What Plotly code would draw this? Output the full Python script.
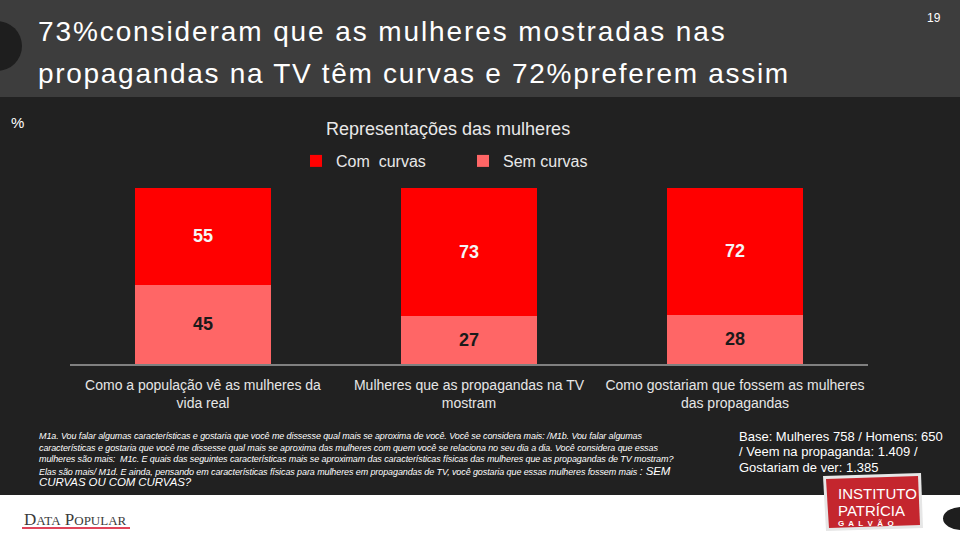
import plotly.graph_objects as go

categories = [
    "Como a população vê as mulheres da<br>vida real",
    "Mulheres que as propagandas na TV<br>mostram",
    "Como gostariam que fossem as mulheres<br>das propagandas",
]
com_curvas = [55, 73, 72]
sem_curvas = [45, 27, 28]

W, H = 960, 534
PL, PR, PT, PB = 70, 868, 188, 364


def px(x):
    return (x - PL) / (PR - PL)


def py(y):
    return (PB - y) / (PB - PT)


fig = go.Figure()
fig.add_trace(go.Bar(
    name="Sem curvas", x=categories, y=sem_curvas,
    marker=dict(color="#ff6666", line=dict(width=0)),
    text=[str(v) for v in sem_curvas], textposition="inside",
    insidetextanchor="middle",
    textfont=dict(family="Liberation Sans", size=18, color="#1a1a1a", weight="bold"),
    legendrank=2, width=0.51,
))
fig.add_trace(go.Bar(
    name="Com  curvas", x=categories, y=com_curvas,
    marker=dict(color="#ff0000", line=dict(width=0)),
    text=[str(v) for v in com_curvas], textposition="inside",
    insidetextanchor="middle",
    textfont=dict(family="Liberation Sans", size=18, color="#f5f5f5", weight="bold"),
    legendrank=1, width=0.51,
))

shapes = []
shapes.append(dict(type="rect", xref="paper", yref="paper", x0=px(0), x1=px(W), y0=py(0), y1=py(97),
                   fillcolor="#3d3d3d", line=dict(width=0), layer="below"))
shapes.append(dict(type="rect", xref="paper", yref="paper", x0=px(0), x1=px(W), y0=py(495), y1=py(H),
                   fillcolor="#ffffff", line=dict(width=0), layer="below"))
shapes.append(dict(type="circle", xref="paper", yref="paper", x0=px(-28), x1=px(22), y0=py(21), y1=py(71),
                   fillcolor="#1e1e1e", line=dict(width=0), layer="below"))
shapes.append(dict(type="circle", xref="paper", yref="paper", x0=px(943), x1=px(981), y0=py(507), y1=py(530),
                   fillcolor="#1e1e1e", line=dict(width=0), layer="below"))
shapes.append(dict(type="rect", xref="paper", yref="paper", x0=px(22), x1=px(130), y0=py(527), y1=py(529),
                   fillcolor="#e0455a", line=dict(width=0), layer="above"))
shapes.append(dict(type="path", xref="paper", yref="paper",
                   path=f"M {px(823)},{py(476)} L {px(921)},{py(473)} L {px(923)},{py(528)} L {px(826)},{py(531)} Z",
                   fillcolor="#e6e6e6", line=dict(width=0), layer="above"))
shapes.append(dict(type="path", xref="paper", yref="paper",
                   path=f"M {px(826)},{py(479)} L {px(918)},{py(476)} L {px(920)},{py(525)} L {px(829)},{py(528)} Z",
                   fillcolor="#c4262e", line=dict(width=0), layer="above"))

annotations = []


def ann(text, x, y, size, color="#ffffff", xanchor="left", family="Liberation Sans", **kw):
    annotations.append(dict(text=text, x=px(x), y=py(y), xref="paper", yref="paper",
                            xanchor=xanchor, yanchor="middle", showarrow=False,
                            font=dict(family=family, size=size, color=color, **kw)))


title1 = '<span style="letter-spacing:1.9px">73%consideram que as mulheres mostradas nas</span>'
title2 = '<span style="letter-spacing:1.7px">propagandas na TV têm curvas e 72%preferem assim</span>'
ann(title1, 36, 32, 28)
ann(title2, 36, 73, 28)
ann("19", 934, 18, 12, xanchor="center")
ann("%", 17, 122, 15, xanchor="center")
ann("Representações das mulheres", 448, 129, 18, color="#e8e8e8", xanchor="center")

foot = [
    "M1a. Vou falar algumas características e gostaria que você me dissesse qual mais se aproxima de você. Você se considera mais: /M1b. Vou falar algumas",
    "características e gostaria que você me dissesse qual mais se aproxima das mulheres com quem você se relaciona no seu dia a dia. Você considera que essas",
    "mulheres são mais:  M1c. E quais das seguintes características mais se aproximam das características físicas das mulheres que as propagandas de TV mostram?",
    "Elas são mais/ M1d. E ainda, pensando em características físicas para mulheres em propagandas de TV, você gostaria que essas mulheres fossem mais <span style=\"font-size:11.5px\">: SEM</span>",
    "<span style=\"font-size:11.5px\">CURVAS OU COM CURVAS?</span>",
]
foot_y = [436, 447.5, 459, 470.5, 482]
for t, y in zip(foot, foot_y):
    ann(f'<span style="letter-spacing:-0.1px">{t}</span>', 37, y, 9, style="italic")

base = ["Base: Mulheres 758 / Homens: 650", "/ Veem na propaganda: 1.409 /", "Gostariam de ver: 1.385"]
for t, y in zip(base, [436, 451.5, 467]):
    ann(t, 737, y, 13)

ann("D<span style=\"font-size:13px\">ATA</span> P<span style=\"font-size:13px\">OPULAR</span>", 22, 519, 17,
    color="#3a3a3a", family="Liberation Serif")
ann("INSTITUTO", 836, 493, 15)
ann("PATRÍCIA", 836, 510, 15)
ann("G  A  L  V  Ã  O", 836, 523, 8, weight="bold")

fig.update_layout(
    width=W, height=H,
    margin=dict(l=PL, r=W - PR, t=PT, b=H - PB, pad=0),
    paper_bgcolor="#212121", plot_bgcolor="rgba(0,0,0,0)",
    barmode="stack", bargap=0.49,
    showlegend=True,
    legend=dict(orientation="h", x=px(463), xanchor="center", y=py(161), yanchor="middle",
                traceorder="normal",
                font=dict(family="Liberation Sans", size=16, color="#e8e8e8"),
                bgcolor="rgba(0,0,0,0)", itemwidth=30, entrywidthmode="pixels", entrywidth=122),
    xaxis=dict(showgrid=False, zeroline=False, showline=True, linecolor="#808080", linewidth=1.5,
               ticks="", ticklabelstandoff=7,
               tickfont=dict(family="Liberation Sans", size=14, color="#e6e6e6"),
               range=[-0.5, 2.5], fixedrange=True),
    yaxis=dict(range=[0, 100], visible=False, showgrid=False, zeroline=False, fixedrange=True),
    shapes=shapes, annotations=annotations,
    font=dict(family="Liberation Sans"),
)

fig.write_html("out.html", config={"displayModeBar": False},
               post_script="document.body.style.margin='0';document.body.style.overflow='hidden';")
